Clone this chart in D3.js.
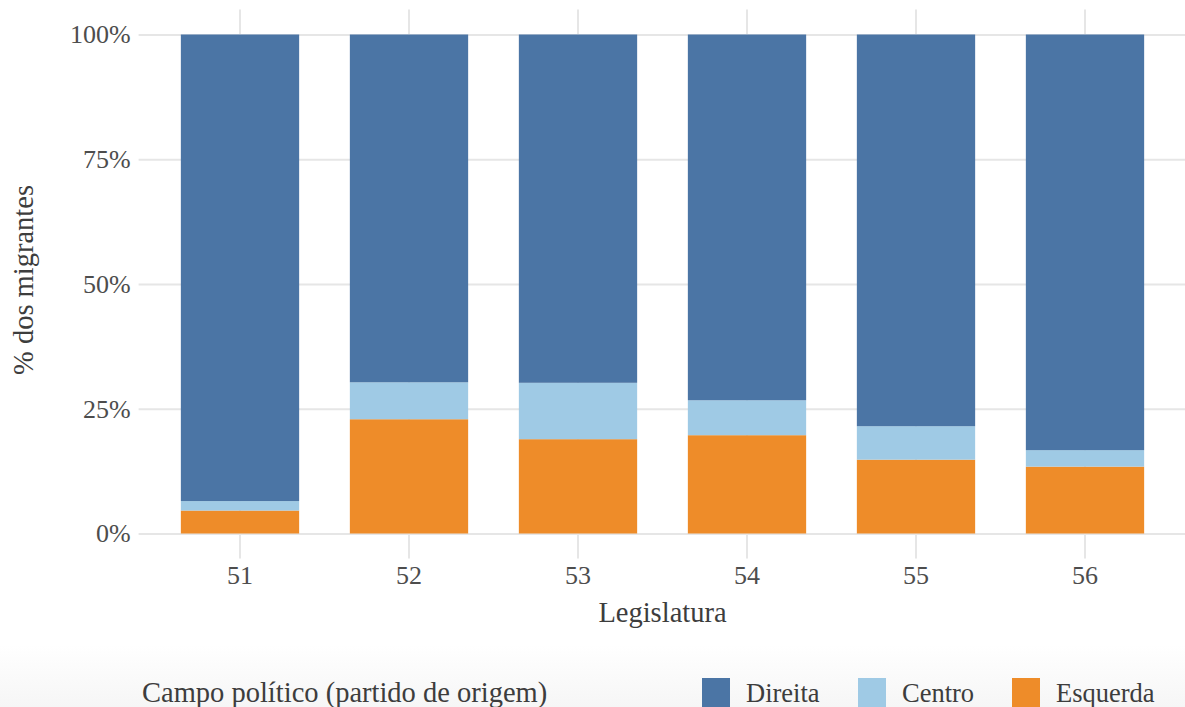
<!DOCTYPE html>
<html>
<head>
<meta charset="utf-8">
<script src="https://cdn.jsdelivr.net/npm/d3@7"></script>
<style>
  html, body { margin: 0; padding: 0; background: #fff; }
  svg { display: block; font-family: 'Liberation Serif', 'Times New Roman', serif; }
</style>
</head>
<body>
<svg width="1185" height="707"></svg>
<script>
// ////////////////////////////////////////////////////////////// data //

const legislaturas = ['51', '52', '53', '54', '55', '56'];
const campos = ['Direita', 'Centro', 'Esquerda'];
const esquerda = [0.046, 0.229, 0.189, 0.197, 0.148, 0.134];
const centro = [0.019, 0.074, 0.113, 0.070, 0.067, 0.033];
const direita = [0.935, 0.697, 0.698, 0.733, 0.785, 0.833];
const yTicks = [0, 0.25, 0.5, 0.75, 1];

const cores = {Direita: '#4b75a5', Centro: '#9fcae5', Esquerda: '#ee8c29'};
const serif = '\'Liberation Serif\', \'Times New Roman\', serif';

const rows = legislaturas.map((l, i) => ({
  leg: l, Esquerda: esquerda[i], Centro: centro[i], Direita: direita[i],
}));

// 0. setup groups
// ----------------------------------
const svg = d3.select('svg');

// faint shade at the bottom of the picture
const defs = svg.append('defs');
const grad = defs.append('linearGradient')
    .attr('id', 'shade')
    .attr('x1', 0).attr('x2', 0).attr('y1', 0).attr('y2', 1);
grad.append('stop').attr('offset', '0%').attr('stop-color', '#fff');
grad.append('stop').attr('offset', '100%').attr('stop-color', '#f6f6f6');
svg.append('rect')
    .attr('x', 0).attr('y', 645)
    .attr('width', 1185).attr('height', 62)
    .attr('fill', 'url(#shade)');

const panel = {left: 138.6, right: 1186.4, top: 9.5, bottom: 558.5};

const x = d3.scaleBand()
    .domain(legislaturas)
    .range([panel.left, panel.right])
    .paddingInner(0.3)
    .paddingOuter(0.25);

const y = d3.scaleLinear()
    .domain([0, 1])
    .range([533.5, 34.5]);

// 1. grid + axes
// ----------------------------------
const yAxis = svg.append('g')
    .attr('transform', `translate(${panel.left},0)`)
    .call(d3.axisLeft(y)
        .tickValues(yTicks)
        .tickFormat(d3.format('.0%'))
        .tickSize(-(panel.right - panel.left))
        .tickPadding(7));

const xAxis = svg.append('g')
    .attr('transform', `translate(0,${panel.bottom})`)
    .call(d3.axisBottom(x)
        .tickSize(-(panel.bottom - panel.top))
        .tickPadding(7));

[xAxis, yAxis].forEach((ax) => {
  ax.attr('font-family', serif);
  ax.select('.domain').remove();
  ax.selectAll('line')
      .attr('stroke', '#e6e6e6')
      .attr('stroke-width', 2);
  ax.selectAll('text')
      .attr('fill', '#4d4d4d')
      .style('font-size', '26px');
});
yAxis.selectAll('text').attr('x', -8);
xAxis.selectAll('text').attr('dy', '0.72em');

// 2. stacked bars
// ----------------------------------
const series = d3.stack()
    .keys(['Esquerda', 'Centro', 'Direita'])(rows);

svg.append('g')
    .selectAll('g')
    .data(series)
    .join('g')
    .attr('fill', (s) => cores[s.key])
    .selectAll('rect')
    .data((s) => s)
    .join('rect')
    .attr('x', (d) => x(d.data.leg))
    .attr('width', x.bandwidth())
    .attr('y', (d) => y(d[1]))
    .attr('height', (d) => y(d[0]) - y(d[1]));

// 3. titles
// ----------------------------------
svg.append('text')
    .attr('x', (panel.left + panel.right) / 2)
    .attr('y', 622)
    .attr('text-anchor', 'middle')
    .attr('fill', '#3d3d3d')
    .style('font-size', '28.5px')
    .text('Legislatura');

svg.append('text')
    .attr('transform', `translate(33,${(panel.top + panel.bottom) / 2 - 4}) rotate(-90)`)
    .attr('text-anchor', 'middle')
    .attr('fill', '#3d3d3d')
    .style('font-size', '28.5px')
    .text('% dos migrantes');

// 4. legend
// ----------------------------------
svg.append('text')
    .attr('x', 142)
    .attr('y', 702)
    .attr('fill', '#3d3d3d')
    .style('font-size', '28.5px')
    .text('Campo político (partido de origem)');

const legendX = [702, 858, 1012];
const item = svg.append('g')
    .selectAll('g')
    .data(campos)
    .join('g')
    .attr('transform', (d, i) => `translate(${legendX[i]},678)`);

item.append('rect')
    .attr('width', 28)
    .attr('height', 29)
    .attr('fill', (d) => cores[d]);

item.append('text')
    .attr('x', 44)
    .attr('y', 24)
    .attr('fill', '#3d3d3d')
    .style('font-size', '26.5px')
    .text((d) => d);
</script>
</body>
</html>
